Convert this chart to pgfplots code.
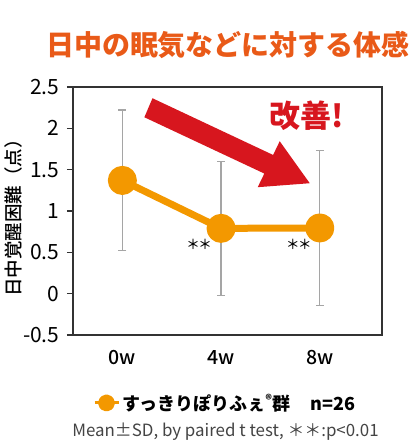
\documentclass[border=0pt]{standalone}
\usepackage{fontspec}
\setmainfont{Noto Sans CJK JP}
\newfontfamily\medfont{Noto Sans CJK JP Medium}
\usepackage{pgfplots}
\pgfplotsset{compat=1.18}

\definecolor{ttl}{RGB}{233,90,24}
\definecolor{org}{RGB}{243,152,0}
\definecolor{arr}{RGB}{215,22,30}
\definecolor{ebar}{RGB}{165,165,165}
\definecolor{frame}{RGB}{51,51,51}
\definecolor{note}{RGB}{68,68,68}

\begin{document}
\begin{tikzpicture}
\begin{axis}[
    at={(73pt,110pt)}, anchor=south west,
    scale only axis, width=309pt, height=248pt,
    xmin=-0.5, xmax=2.63, ymin=-0.5, ymax=2.5,
    xtick={0,1,2}, xticklabels={0w,4w,8w},
    ytick={-0.5,0,0.5,1,1.5,2,2.5},
    yticklabels={-0.5,0,0.5,1,1.5,2,2.5},
    /pgf/number format/assume math mode=true,
    axis line style={frame, line width=1.3pt},
    xtick style={draw=none},
    ytick pos=left, tick align=outside, major tick length=6pt,
    ytick style={frame, line width=1.3pt},
    yticklabel style={font=\fontsize{21}{22}\selectfont, xshift=-4pt},
    xticklabel style={font=\fontsize{19.5}{21}\selectfont\medfont, yshift=-6pt},
    ylabel={日中覚醒困難（点）},
    ylabel style={font=\fontsize{18.5}{20}\selectfont\medfont, at={(axis description cs:-0.194,0.49)}, anchor=center},
    legend style={at={(axis description cs:0.492,-0.274)}, anchor=center, draw=none, fill=none,
        font=\fontsize{18}{20}\selectfont\bfseries},
    legend image code/.code={
        \draw[org, line width=3pt] (0pt,0pt) -- (24pt,0pt);
        \fill[org] (12pt,0pt) circle (5pt);
    },
]
% arrow annotation
\fill[arr] (axis cs:0.305,2.364) -- (axis cs:1.527,1.678) -- (axis cs:1.594,1.844)
    -- (axis cs:1.898,1.336) -- (axis cs:1.371,1.288) -- (axis cs:1.438,1.453)
    -- (axis cs:0.223,2.134) -- cycle;
\node[text=arr, font=\fontsize{31}{32}\selectfont\bfseries] at (axis cs:1.868,2.158) {改善!};

% error bars (SD) behind the line
\addplot[draw=none, mark=none, forget plot,
    error bars/.cd, y dir=both, y explicit,
    error bar style={ebar, line width=1.3pt},
    error mark options={rotate=90, ebar, mark size=4pt, line width=1.3pt}]
    coordinates {(0,1.37) +- (0,0.85) (1,0.79) +- (0,0.81) (2,0.795) +- (0,0.94)};

\addplot[org, line width=7pt, line join=round, mark=*, mark size=11pt,
    mark options={fill=org, draw=none}]
    coordinates {(0,1.37) (1,0.79) (2,0.795)};
\addlegendentry{すっきりぽりふぇ\textsuperscript{®}群\hspace{1.1em}n=26}

\node[font=\fontsize{13.5}{15}\selectfont\medfont] at (axis cs:0.777,0.599) {＊\kern-1.5pt＊};
\node[font=\fontsize{13.5}{15}\selectfont\medfont] at (axis cs:1.787,0.599) {＊\kern-1.5pt＊};
\end{axis}

\node[text=ttl, font=\fontsize{28}{30}\selectfont\bfseries] at (228pt,400pt) {日中の眠気などに対する体感};
\node[text=note, font=\fontsize{16.9}{18}\selectfont] at (225.5pt,13pt) {Mean±SD, by paired t test, ＊＊:p<0.01};

\pgfresetboundingbox
\path (0pt,0pt) rectangle (410pt,445pt);
\end{tikzpicture}
\end{document}
